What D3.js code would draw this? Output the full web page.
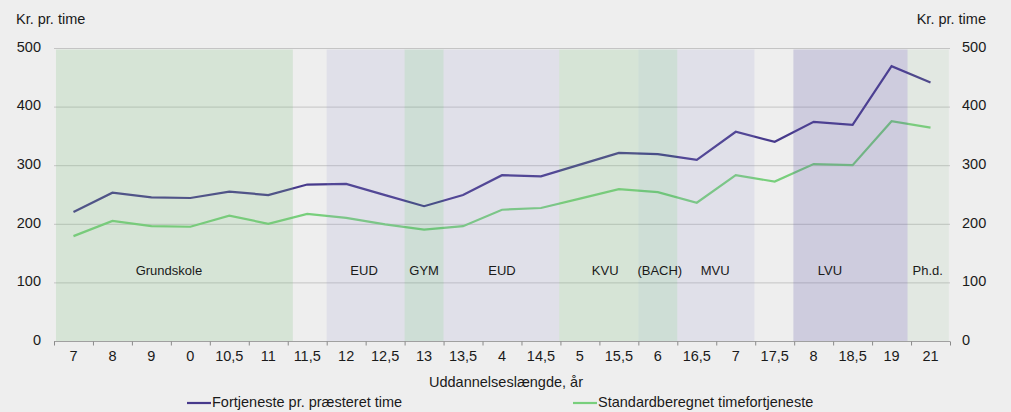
<!DOCTYPE html>
<html>
<head>
<meta charset="utf-8">
<script src="https://cdn.jsdelivr.net/npm/d3@7.9.0/dist/d3.min.js"></script>
<style>
  body { margin: 0; background: #eeeeee; }
  svg { display: block; font-family: "Liberation Sans", Arial, sans-serif; }
  text { fill: #1a1a1a; }
</style>
</head>
<body>
<svg id="chart" width="1011" height="412"></svg>
<script>
// x categories (labels as printed under the axis)
const categories = ['7', '8', '9', '0', '10,5', '11', '11,5', '12', '12,5', '13', '13,5', '4',
  '14,5', '5', '15,5', '6', '16,5', '7', '17,5', '8', '18,5', '19', '21'];

// kr. pr. time
const fortjeneste = [220, 253, 245, 244, 255, 249, 267, 268, 249, 230, 249, 283,
  281, 301, 321, 319, 309, 357, 340, 374, 369, 469, 441];
const standard = [179, 205, 196, 195, 214, 200, 217, 210, 199, 190, 196, 224,
  227, 243, 259, 254, 236, 283, 272, 302, 300, 375, 364];

const yTicks = [0, 100, 200, 300, 400, 500];

// education segments, start/end in category units
const segNames = ['Grundskole', 'EUD', 'GYM', 'EUD', 'KVU', '(BACH)', 'MVU', 'LVU', 'Ph.d.'];
const segStart = [0.05, 7, 9, 10, 12.97, 15, 16, 18.98, 21.91];
const segEnd = [6.13, 9, 10, 12.97, 15, 16, 17.98, 21.91, 22.97];
const segLabelAt = [2.95, 7.96, 9.5, 11.5, 14.15, 15.55, 16.97, 19.92, 22.43];
const segKind = ['green', 'lav', 'teal', 'lav', 'green', 'teal', 'lav', 'purple', 'pale'];

const segFill = {
  green: 'rgba(120,190,120,0.2)',
  lav: 'rgba(150,150,205,0.15)',
  teal: 'rgba(80,160,120,0.2)',
  purple: 'rgba(95,85,170,0.22)',
  pale: 'rgba(140,190,140,0.12)'
};

const svg = d3.select('#chart');
const m = { left: 54, right: 950, top: 48, bottom: 341 };

const x = d3.scaleBand().domain(d3.range(categories.length)).range([m.left, m.right]);
const u = d3.scaleLinear().domain([0, categories.length]).range([m.left, m.right]);
const y = d3.scaleLinear().domain([0, 500]).range([m.bottom, m.top]);

// gridlines
svg.append('g')
  .selectAll('line')
  .data(yTicks.filter(d => d > 0))
  .join('line')
  .attr('x1', m.left).attr('x2', m.right)
  .attr('y1', d => y(d) + 0.5).attr('y2', d => y(d) + 0.5)
  .attr('stroke', '#c4c4c4');

// lines
const line = d3.line().x((d, i) => x(i) + x.bandwidth() / 2).y(d => y(d));

svg.append('path').datum(standard)
  .attr('d', line).attr('fill', 'none')
  .attr('stroke', '#78cf7c').attr('stroke-width', 2.2);

svg.append('path').datum(fortjeneste)
  .attr('d', line).attr('fill', 'none')
  .attr('stroke', '#473a8c').attr('stroke-width', 2.2);

// segment shading sits on top of the lines, like the original
svg.append('g')
  .selectAll('rect')
  .data(segNames)
  .join('rect')
  .attr('x', (d, i) => u(segStart[i]))
  .attr('width', (d, i) => u(segEnd[i]) - u(segStart[i]))
  .attr('y', y(500) + 1.5)
  .attr('height', y(0) - y(500) - 1.5)
  .attr('fill', (d, i) => segFill[segKind[i]]);

svg.append('g')
  .selectAll('text')
  .data(segNames)
  .join('text')
  .attr('x', (d, i) => u(segLabelAt[i]))
  .attr('y', y(118))
  .attr('text-anchor', 'middle')
  .attr('dominant-baseline', 'middle')
  .attr('font-size', 13)
  .text(d => d);

// x axis
const xAxis = svg.append('g').attr('transform', `translate(0,${m.bottom + 0.5})`);
xAxis.append('line').attr('x1', m.left).attr('x2', m.right).attr('stroke', '#a0a0a0');
xAxis.selectAll('.tk')
  .data(d3.range(categories.length + 1))
  .join('line')
  .attr('class', 'tk')
  .attr('x1', d => u(d) + 0.5).attr('x2', d => u(d) + 0.5)
  .attr('y1', 0).attr('y2', 4)
  .attr('stroke', '#8a8a8a');
xAxis.selectAll('text')
  .data(categories)
  .join('text')
  .attr('x', (d, i) => x(i) + x.bandwidth() / 2)
  .attr('y', 16)
  .attr('text-anchor', 'middle')
  .attr('dominant-baseline', 'middle')
  .attr('font-size', 14.5)
  .text(d => d);

// y axes
const yl = svg.append('g').attr('transform', `translate(41,0)`);
yl.selectAll('text').data(yTicks).join('text')
  .attr('y', d => y(d)).attr('text-anchor', 'end')
  .attr('dominant-baseline', 'middle').attr('font-size', 14.5)
  .text(d => d);
const yr = svg.append('g').attr('transform', `translate(962,0)`);
yr.selectAll('text').data(yTicks).join('text')
  .attr('y', d => y(d)).attr('text-anchor', 'start')
  .attr('dominant-baseline', 'middle').attr('font-size', 14.5)
  .text(d => d);

svg.append('text').attr('x', 16).attr('y', 20)
  .attr('dominant-baseline', 'middle').attr('font-size', 14.5).text('Kr. pr. time');
svg.append('text').attr('x', 986).attr('y', 20).attr('text-anchor', 'end')
  .attr('dominant-baseline', 'middle').attr('font-size', 14.5).text('Kr. pr. time');

svg.append('text').attr('x', 506).attr('y', 383)
  .attr('text-anchor', 'middle').attr('dominant-baseline', 'middle')
  .attr('font-size', 14.5).text('Uddannelseslængde, år');

// legend
const legend = [
  { name: 'Fortjeneste pr. præsteret time', color: '#473a8c', x: 187 },
  { name: 'Standardberegnet timefortjeneste', color: '#78cf7c', x: 573 }
];
const lg = svg.append('g').selectAll('g').data(legend).join('g')
  .attr('transform', d => `translate(${d.x},403)`);
lg.append('line').attr('x1', 0).attr('x2', 24)
  .attr('stroke', d => d.color).attr('stroke-width', 2.2);
lg.append('text').attr('x', 25).attr('dominant-baseline', 'middle')
  .attr('font-size', 14.5).text(d => d.name);
</script>
</body>
</html>
